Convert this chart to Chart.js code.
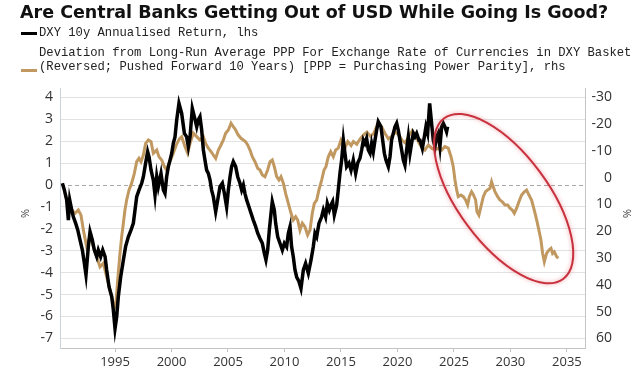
<!DOCTYPE html>
<html>
<head>
<meta charset="utf-8">
<script src="https://cdn.jsdelivr.net/npm/chart.js@4.4.0/dist/chart.umd.min.js"></script>
<style>
  body { margin: 0; background: #fff; }
  #wrap { position: relative; width: 643px; height: 373px; overflow: hidden; }
  #chart { position: absolute; left: 0; top: 0; }
  .title { position: absolute; left: 20px; top: 1px; font: bold 17.5px "DejaVu Sans", sans-serif; color: #111; white-space: nowrap; line-height: 22px; }
  .leg { position: absolute; left: 39px; font: 12.2px "Liberation Mono", monospace; color: #222; white-space: nowrap; line-height: 14.4px; }
  .dash { position: absolute; left: 21px; width: 16px; height: 3px; }
  .unit { position: absolute; font: 11px "Open Sans", sans-serif; color: #444; }
</style>
</head>
<body>
<div id="wrap">
  <canvas id="chart" width="643" height="373"></canvas>
  <div class="title">Are Central Banks Getting Out of USD While Going Is Good?</div>
  <div class="dash" style="top:32px;background:#000"></div>
  <div class="leg" style="top:26px">DXY 10y Annualised Return, lhs</div>
  <div class="dash" style="top:69px;background:#c09860"></div>
  <div class="leg" style="top:46px">Deviation from Long-Run Average PPP For Exchange Rate of Currencies in DXY Basket<br>(Reversed; Pushed Forward 10 Years) [PPP = Purchasing Power Parity], rhs</div>
  <div class="unit" style="left:20px;top:206px;transform:rotate(-90deg)">%</div>
  <div class="unit" style="left:623px;top:206px;transform:rotate(90deg)">%</div>
</div>
<script>
// DXY 10y annualised return (lhs, %)
var dxyYears = [1990.34, 1990.52, 1990.72, 1990.87, 1990.99, 1991.17, 1991.31, 1991.52, 1991.70, 1991.90,
  1992.11, 1992.29, 1992.43, 1992.64, 1992.79, 1992.99, 1993.17, 1993.38, 1993.52, 1993.73,
  1993.91, 1994.12, 1994.26, 1994.47, 1994.71, 1994.85, 1995.00, 1995.15, 1995.29, 1995.50,
  1995.74, 1995.94, 1996.18, 1996.42, 1996.62, 1996.77, 1996.92, 1997.12, 1997.36, 1997.51,
  1997.71, 1997.89, 1998.01, 1998.19, 1998.39, 1998.54, 1998.69, 1998.83, 1999.07, 1999.28,
  1999.42, 1999.57, 1999.72, 1999.87, 2000.02, 2000.16, 2000.31, 2000.46, 2000.66, 2000.90,
  2001.14, 2001.34, 2001.49, 2001.64, 2001.84, 2002.02, 2002.23, 2002.37, 2002.52, 2002.67,
  2002.82, 2002.96, 2003.11, 2003.26, 2003.41, 2003.55, 2003.70, 2003.91, 2004.09, 2004.29,
  2004.50, 2004.68, 2004.88, 2005.03, 2005.18, 2005.32, 2005.47, 2005.68, 2005.86, 2006.06,
  2006.21, 2006.36, 2006.50, 2006.65, 2006.86, 2007.04, 2007.24, 2007.45, 2007.63, 2007.83,
  2008.04, 2008.22, 2008.36, 2008.51, 2008.66, 2008.81, 2008.92, 2009.10, 2009.22, 2009.40,
  2009.60, 2009.81, 2009.99, 2010.19, 2010.34, 2010.49, 2010.63, 2010.78, 2010.93, 2011.08,
  2011.28, 2011.46, 2011.67, 2011.87, 2012.11, 2012.35, 2012.55, 2012.70, 2012.85, 2013.05,
  2013.29, 2013.44, 2013.64, 2013.79, 2013.97, 2014.12, 2014.26, 2014.41, 2014.62, 2014.76,
  2014.91, 2015.06, 2015.21, 2015.35, 2015.50, 2015.71, 2015.89, 2016.09, 2016.30, 2016.48,
  2016.68, 2016.83, 2016.98, 2017.12, 2017.27, 2017.42, 2017.57, 2017.71, 2017.86, 2018.01,
  2018.16, 2018.30, 2018.54, 2018.69, 2018.84, 2018.98, 2019.19, 2019.34, 2019.48, 2019.63,
  2019.78, 2019.93, 2020.07, 2020.22, 2020.37, 2020.52, 2020.66, 2020.81, 2020.96, 2021.11,
  2021.25, 2021.40, 2021.55, 2021.70, 2021.90, 2021.99, 2022.20, 2022.38, 2022.52, 2022.67,
  2022.85, 2023.02, 2023.17, 2023.32, 2023.47, 2023.61, 2023.76, 2023.91, 2024.06, 2024.20,
  2024.35, 2024.44];
var dxyReturn = [0.08, -0.23, -0.68, -1.6, -0.68, -1.14, -1.45, -1.75, -2.05, -2.5,
  -2.97, -3.58, -4.1, -2.8, -2.13, -2.5, -2.97, -3.27, -2.97, -3.27,
  -2.97, -3.27, -3.88, -4.64, -5.1, -5.7, -6.55, -6.0, -5.1, -4.2,
  -3.42, -2.8, -2.36, -2.05, -1.75, -1.14, -0.53, -0.23, 0.08, 0.38,
  1.0, 1.52, 1.29, 0.68, 0.23, -0.46, 0.38, -0.08, 0.53, -0.23,
  -0.38, 0.38, 0.84, 1.14, 1.45, 1.9, 2.2, 2.97, 3.73, 3.27,
  2.36, 2.2, 1.75, 2.2, 3.5, 3.12, 2.66, 2.97, 3.12, 2.51,
  1.6, 1.14, 0.68, 0.53, 0.23, -0.23, -0.53, -1.22, -0.68, -0.08,
  0.08, -0.38, -1.0, -0.23, 0.38, 0.84, 1.07, 0.84, 0.38, 0.08,
  -0.23, 0.0, -0.38, -0.68, -1.0, -1.29, -1.6, -1.9, -2.2, -2.44,
  -2.66, -3.12, -3.42, -2.97, -2.05, -1.29, -0.76, -1.14, -1.75, -2.36,
  -2.66, -2.97, -2.66, -2.82, -2.2, -1.9, -2.82, -3.27, -3.88, -4.2,
  -4.4, -4.72, -3.88, -3.58, -4.03, -3.42, -2.82, -2.2, -2.36, -1.75,
  -1.45, -1.14, -1.45, -0.84, -1.14, -0.91, -0.76, -1.37, -0.91, -0.23,
  0.53, 1.14, 2.05, 1.45, 0.84, 1.0, 0.68, 1.14, 0.53, 1.0,
  1.22, 1.6, 2.05, 1.9, 2.13, 1.6, 1.45, 1.9, 1.52, 2.05,
  2.51, 2.89, 2.66, 2.05, 1.45, 1.14, 0.84, 1.29, 2.05, 2.36,
  2.66, 2.82, 2.51, 2.05, 1.6, 1.14, 0.91, 1.6, 2.2, 1.45,
  1.9, 2.36, 2.2, 2.36, 2.05, 2.05, 1.67, 2.2, 2.66, 2.36,
  3.73, 2.82, 2.05, 1.75, 2.2, 2.36, 1.75, 2.66, 2.82, 2.66,
  2.43, 2.66];

// Deviation from long-run average PPP, reversed, pushed forward 10y (rhs, %)
var pppYears = [1990.58, 1990.87, 1991.16, 1991.46, 1991.75, 1991.99, 1992.20, 1992.49, 1992.79, 1993.08,
  1993.38, 1993.67, 1993.97, 1994.26, 1994.56, 1994.85, 1995.06, 1995.24, 1995.44, 1995.59,
  1995.74, 1995.88, 1996.03, 1996.24, 1996.47, 1996.71, 1996.92, 1997.12, 1997.30, 1997.51,
  1997.71, 1997.95, 1998.19, 1998.39, 1998.69, 1998.89, 1999.13, 1999.37, 1999.57, 1999.80,
  2000.10, 2000.45, 2000.70, 2000.90, 2001.19, 2001.43, 2001.64, 2001.93, 2002.23, 2002.52,
  2002.82, 2003.02, 2003.26, 2003.50, 2003.70, 2003.91, 2004.15, 2004.38, 2004.59, 2004.79,
  2005.03, 2005.27, 2005.47, 2005.68, 2005.91, 2006.15, 2006.36, 2006.56, 2006.74, 2006.95,
  2007.15, 2007.39, 2007.63, 2007.83, 2008.04, 2008.27, 2008.51, 2008.72, 2008.92, 2009.10,
  2009.31, 2009.51, 2009.69, 2009.90, 2010.10, 2010.34, 2010.58, 2010.78, 2010.99, 2011.17,
  2011.37, 2011.58, 2011.81, 2012.05, 2012.26, 2012.46, 2012.64, 2012.85, 2013.05, 2013.29,
  2013.50, 2013.67, 2013.88, 2014.09, 2014.32, 2014.53, 2014.76, 2015.00, 2015.21, 2015.40,
  2015.60, 2015.90, 2016.10, 2016.40, 2016.70, 2017.00, 2017.30, 2017.60, 2017.90, 2018.10,
  2018.30, 2018.60, 2018.90, 2019.20, 2019.50, 2019.80, 2020.10, 2020.40, 2020.70, 2021.00,
  2021.30, 2021.60, 2021.90, 2022.20, 2022.43, 2022.73, 2023.02, 2023.32, 2023.61, 2023.91,
  2024.20, 2024.50, 2024.74, 2024.94, 2025.09, 2025.24, 2025.38, 2025.62, 2025.83, 2026.03,
  2026.21, 2026.36, 2026.56, 2026.74, 2026.92, 2027.04, 2027.21, 2027.39, 2027.60, 2027.80,
  2027.98, 2028.19, 2028.33, 2028.48, 2028.63, 2028.87, 2029.07, 2029.28, 2029.51, 2029.75,
  2029.96, 2030.16, 2030.34, 2030.55, 2030.75, 2030.99, 2031.23, 2031.43, 2031.64, 2031.87,
  2032.11, 2032.32, 2032.52, 2032.70, 2032.85, 2033.00, 2033.20, 2033.41, 2033.59, 2033.73,
  2033.88, 2034.09, 2034.23];
var pppDeviation = [5.85, 10.85, 12.1, 13.3, 12.1, 14.0, 19.6, 25.8, 22.0, 25.8,
  29.5, 33.3, 32.0, 37.0, 42.0, 46.9, 48.2, 38.2, 28.3, 22.0,
  17.0, 12.1, 8.35, 4.6, 2.1, -1.6, -5.95, -7.2, -5.95, -8.45,
  -12.8, -14.05, -13.4, -9.1, -10.3, -7.8, -6.6, -4.1, -2.85, -5.5,
  -8.5, -12.5, -14.5, -15.3, -11.6, -9.1, -12.8, -16.6, -15.3, -14.05,
  -15.3, -12.8, -11.0, -9.7, -8.45, -7.2, -10.3, -12.2, -14.05, -16.6,
  -17.8, -20.3, -19.0, -17.8, -15.9, -14.7, -14.05, -13.4, -12.2, -10.3,
  -7.8, -5.95, -3.5, -2.85, -1.0, -0.35, -2.85, -5.95, -6.6, -4.1,
  -0.35, 0.9, -0.35, 2.1, 5.85, 9.6, 13.3, 15.8, 14.6, 15.8,
  19.6, 17.0, 18.3, 21.4, 19.6, 13.3, 9.6, 8.35, 4.6, 0.9,
  -2.85, -4.1, -7.8, -9.7, -7.8, -10.3, -11.0, -14.05, -12.2, -11.5,
  -13.5, -12.0, -13.5, -12.5, -14.5, -16.0, -17.0, -15.5, -16.5, -18.5,
  -20.5, -19.0, -16.5, -14.5, -15.5, -17.0, -16.0, -14.0, -13.0, -15.5,
  -17.5, -16.0, -13.0, -11.0, -10.3, -12.2, -11.0, -10.3, -11.0, -10.3,
  -11.6, -11.0, -7.8, -4.1, 0.9, 4.6, 7.1, 6.5, 7.1, 8.35,
  10.2, 7.1, 5.25, 6.5, 8.35, 12.7, 14.0, 10.85, 7.1, 5.25,
  4.6, 4.0, 1.5, 3.4, 5.25, 7.1, 8.35, 9.0, 10.2, 10.2,
  11.4, 12.1, 13.3, 11.4, 9.0, 6.5, 5.25, 4.6, 6.5, 8.35,
  12.1, 15.8, 19.6, 23.3, 28.3, 31.4, 28.3, 27.0, 26.4, 28.3,
  27.7, 29.5, 30.1];

var leftTicks = [4, 3, 2, 1, 0, -1, -2, -3, -4, -5, -6, -7];
var rightTicks = [-30, -20, -10, 0, 10, 20, 30, 40, 50, 60];
var yearTicks = [1995, 2000, 2005, 2010, 2015, 2020, 2025, 2030, 2035];

function points(xs, ys) {
    return xs.map(function (x, i) { return { x: x, y: ys[i] }; });
}
function fixedTicks(list) {
    return function (scale) {
        scale.ticks = list.map(function (v) { return { value: v }; });
    };
}

// hand-drawn red ring around the projection
var ringPlugin = {
    id: "ring",
    afterDatasetsDraw: function (chart) {
        var c = chart.ctx;
        var cx = chart.scales.x.getPixelForValue(2029.4);
        var cy = chart.scales.y.getPixelForValue(-0.62);
        c.save();
        c.strokeStyle = "#c8323f";
        c.lineWidth = 2;
        c.shadowColor = "rgba(230,90,100,0.6)";
        c.shadowBlur = 4;
        c.beginPath();
        c.ellipse(cx, cy, 100, 45, 53.5 * Math.PI / 180, 0, Math.PI * 2);
        c.stroke();
        c.restore();
    }
};

var tickFont = { family: "Open Sans", size: 14 };

var ctx = document.getElementById("chart").getContext("2d");
var chart = new Chart(ctx, {
    type: "line",
    data: {
        datasets: [
            {
                label: "DXY 10y Annualised Return, lhs",
                data: points(dxyYears, dxyReturn),
                yAxisID: "y",
                borderColor: "#000",
                borderWidth: 3.5,
                pointRadius: 0,
                tension: 0,
            },
            {
                label: "Deviation from Long-Run Average PPP",
                data: points(pppYears, pppDeviation),
                yAxisID: "y2",
                borderColor: "#c09860",
                borderWidth: 3,
                pointRadius: 0,
                tension: 0,
            },
        ],
    },
    options: {
        responsive: false,
        animation: false,
        layout: { padding: { top: 88, right: 31, left: 0, bottom: 0 } },
        plugins: { legend: { display: false }, tooltip: { enabled: false } },
        scales: {
            x: {
                type: "linear",
                min: 1990.13,
                max: 2036.6,
                afterBuildTicks: fixedTicks(yearTicks),
                afterFit: function (s) { s.height = 25; },
                grid: { drawOnChartArea: false, drawTicks: true, tickLength: 4, tickColor: "#c4c4c4" },
                border: { color: "#c4c4c4" },
                ticks: {
                    font: { family: "Open Sans", size: 13 },
                    color: "#333",
                    padding: 2,
                    maxRotation: 0,
                    callback: function (v) { return String(v); },
                },
            },
            y: {
                position: "left",
                min: -7.44,
                max: 4.43,
                afterBuildTicks: fixedTicks(leftTicks),
                afterFit: function (s) { s.width = 60; },
                grid: {
                    drawTicks: false,
                    color: function (c) { return c.tick && c.tick.value === 0 ? "#a8a8a8" : "#e2e2e2"; },
                },
                border: {
                    color: "#c9d3dc",
                    dash: function (c) { return c.tick && c.tick.value === 0 ? [4, 3] : []; },
                },
                ticks: { font: tickFont, color: "#333", padding: 7 },
            },
            y2: {
                position: "right",
                reverse: true,
                min: -33.47,
                max: 63.6,
                afterBuildTicks: fixedTicks(rightTicks),
                afterFit: function (s) { s.width = 27; },
                grid: { drawOnChartArea: false, drawTicks: false },
                border: { color: "#c4c4c4" },
                ticks: { font: tickFont, color: "#333", crossAlign: "far" },
            },
        },
    },
    plugins: [ringPlugin],
});
</script>
</body>
</html>
